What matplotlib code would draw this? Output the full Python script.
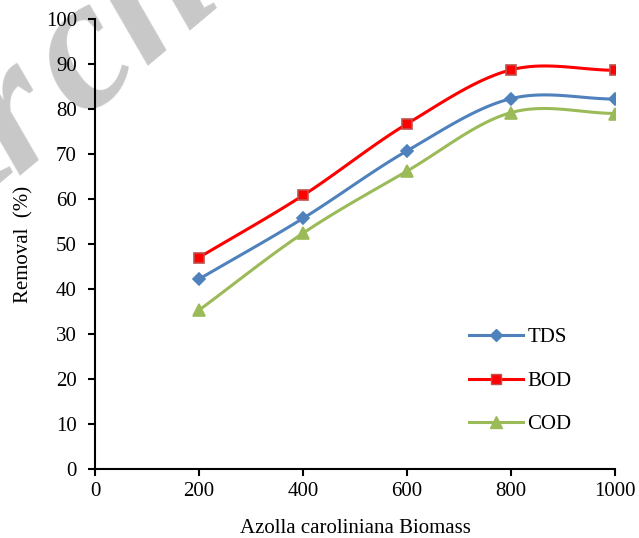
import numpy as np
import matplotlib
matplotlib.use("Agg")
import matplotlib.pyplot as plt
from matplotlib.lines import Line2D

biomass = [200, 400, 600, 800, 1000]
tds = [42.2, 55.7, 70.7, 82.3, 82.2]
bod = [47.0, 60.8, 76.7, 88.7, 88.6]
cod = [35.3, 52.4, 66.2, 79.2, 79.0]
series_names = ["TDS", "BOD", "COD"]

plt.rcParams['font.family'] = ['Liberation Serif', 'DejaVu Serif']

def smooth(x, y, n=30):
    # Catmull-Rom style smoothing (like Excel smoothed lines)
    x = np.asarray(x, float); y = np.asarray(y, float)
    P = np.column_stack([x, y])
    P = np.vstack([2*P[0]-P[1], P, 2*P[-1]-P[-2]])
    out = []
    for i in range(1, len(P)-2):
        p0, p1, p2, p3 = P[i-1], P[i], P[i+1], P[i+2]
        t = np.linspace(0, 1, n)[:, None]
        seg = 0.5*((2*p1) + (-p0+p2)*t + (2*p0-5*p1+4*p2-p3)*t**2 + (-p0+3*p1-3*p2+p3)*t**3)
        out.append(seg)
    s = np.vstack(out)
    return s[:, 0], s[:, 1]

W, H = 639, 538
fig = plt.figure(figsize=(W/100, H/100), dpi=100)
ax = fig.add_axes([95/W, (H-469)/H, 520/W, 450/H])
ax.patch.set_alpha(0)

# watermark letters (light gray, behind the axes)
wm_letters = ["A", "r", "c", "h"]
x0, y0, dx, dy = -55, 178, 70, -60
for i, ch in enumerate(wm_letters):
    px, py = x0 + i*dx, y0 + i*dy
    fig.text(px/W, 1 - py/H, ch, fontsize=135, fontstyle="italic", fontweight="bold",
             color="#c8c8c8", rotation=40, ha="center", va="center", zorder=-5)

styles = [
    dict(color="#4F81BD", marker="D", mfc="#4F81BD", mec="#4F81BD", ms=6),
    dict(color="#FF0000", marker="s", mfc="#FF0000", mec="#C0504D", ms=7),
    dict(color="#9BBB59", marker="^", mfc="#9BBB59", mec="#9BBB59", ms=8),
]
handles = []
for name, vals, st in zip(series_names, [tds, bod, cod], styles):
    sx, sy = smooth(biomass, vals)
    ax.plot(sx, sy, color=st["color"], lw=2.2, zorder=3)
    ax.plot(biomass, vals, ls="none", marker=st["marker"], ms=st["ms"],
            mfc=st["mfc"], mec=st["mec"], mew=1.2, zorder=4)
    handles.append(Line2D([], [], color=st["color"], lw=2.2, marker=st["marker"],
                          ms=st["ms"], mfc=st["mfc"], mec=st["mec"], label=name))

ax.set_xlim(0, 1000)
ax.set_ylim(0, 100)
ax.set_xticks(range(0, 1001, 200))
ax.set_yticks(range(0, 101, 10))
for s in ["top", "right"]:
    ax.spines[s].set_visible(False)
for s in ["left", "bottom"]:
    ax.spines[s].set_linewidth(1.5)
ax.tick_params(direction="out", length=5, width=1.5, labelsize=15)
ax.tick_params(axis="x", pad=4.5)
ax.tick_params(axis="y", pad=8)
ax.set_xlabel("Azolla caroliniana Biomass", fontsize=15, labelpad=13)
ax.set_ylabel("Removal  (%)", fontsize=15, labelpad=9)

leg = ax.legend(handles=handles, loc="upper left", bbox_to_anchor=(0.719, 0.314),
                frameon=False, fontsize=15, handlelength=2.6, handletextpad=0.2,
                labelspacing=1.15, borderpad=0, borderaxespad=0)

fig.savefig("out.png", dpi=100)
